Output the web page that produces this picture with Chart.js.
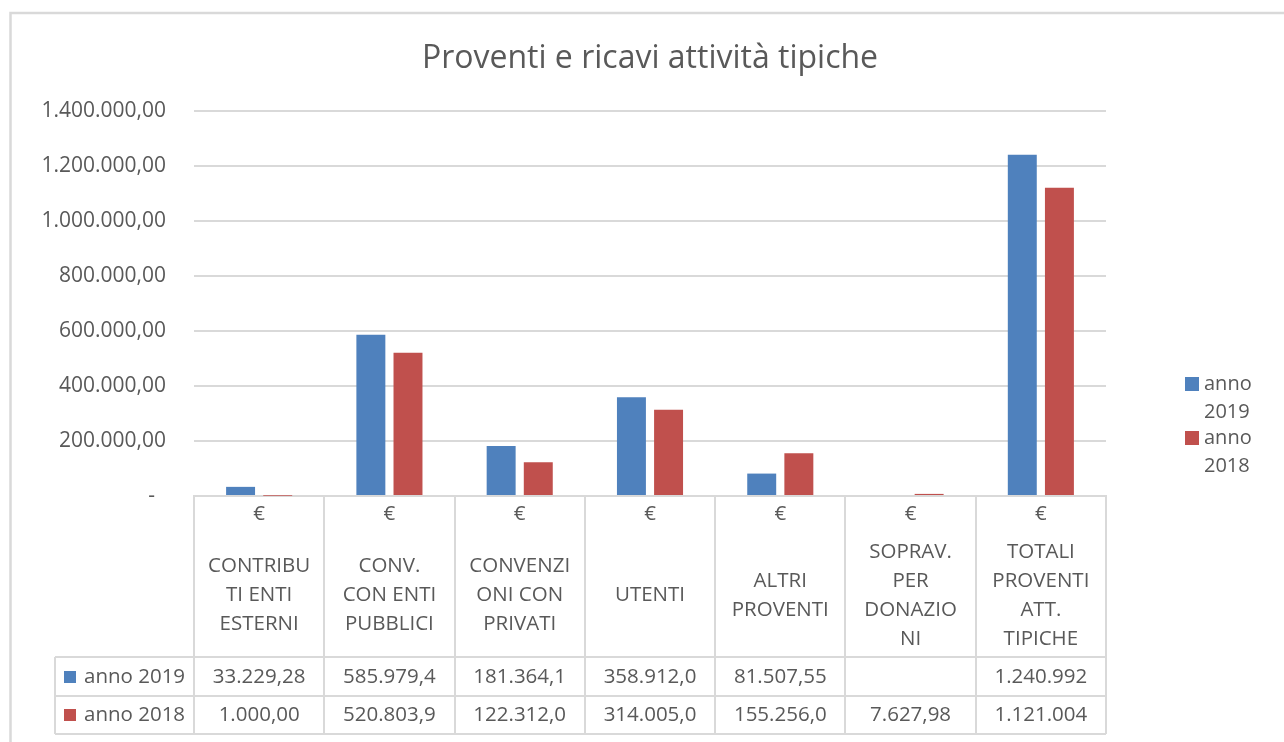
<!DOCTYPE html>
<html>
<head>
<meta charset="utf-8">
<script src="https://cdn.jsdelivr.net/npm/chart.js@4.4.1/dist/chart.umd.min.js"></script>
<style>
	html, body { margin: 0; padding: 0; background: #fff; }
	#wrap { width: 1284px; height: 742px; }
</style>
</head>
<body>
<div id="wrap"><canvas id="chart" width="1284" height="742"></canvas></div>
<script>
// Values
var chartTitle = "Proventi e ricavi attività tipiche";
var categories = [
	["CONTRIBU", "TI ENTI", "ESTERNI"],
	["CONV.", "CON ENTI", "PUBBLICI"],
	["CONVENZI", "ONI CON", "PRIVATI"],
	["UTENTI"],
	["ALTRI", "PROVENTI"],
	["SOPRAV.", "PER", "DONAZIO", "NI"],
	["TOTALI", "PROVENTI", "ATT.", "TIPICHE"]
];
var currencySymbol = "€";
var seriesNames = ["anno 2019", "anno 2018"];
var values2019 = [33229.28, 585979.4, 181364.1, 358912.0, 81507.55, null, 1240992];
var values2018 = [1000.00, 520803.9, 122312.0, 314005.0, 155256.0, 7627.98, 1121004];
// cell texts as they show in the data table (Excel cuts them off)
var cells2019 = ["33.229,28", "585.979,4", "181.364,1", "358.912,0", "81.507,55", "", "1.240.992"];
var cells2018 = ["1.000,00", "520.803,9", "122.312,0", "314.005,0", "155.256,0", "7.627,98", "1.121.004"];
var yMax = 1400000;
var yStep = 200000;

var BLUE = "#4F81BD", RED = "#C0504D", GRID = "#D9D9D9", TEXT = "#595959";
var FONT = "'Open Sans', 'Noto Sans', sans-serif";

// 1400000 -> "1.400.000,00"
function formatIt(v) {
	var parts = v.toFixed(2).split(".");
	var intPart = parts[0].replace(/\B(?=(\d{3})+(?!\d))/g, ".");
	return intPart + "," + parts[1];
}

// Border, data table under the axis and the two-line legend
var tablePlugin = {
	id: "dataTable",
	beforeDraw: function(chart) {
		var ctx = chart.ctx;
		ctx.save();
		ctx.strokeStyle = GRID;
		ctx.lineWidth = 2.5;
		ctx.strokeRect(10.5, 13, 1400, 1000);
		ctx.restore();
	},
	afterDraw: function(chart) {
		var ctx = chart.ctx;
		var area = chart.chartArea;
		var xs = chart.scales.x;
		var n = categories.length;
		var w = (area.right - area.left) / n;
		var top = area.bottom;
		var headBottom = top + 161;
		var rowMid = headBottom + 39;
		var bottom = rowMid + 38;
		var keyLeft = 55;

		ctx.save();
		ctx.strokeStyle = GRID;
		ctx.lineWidth = 2;
		ctx.beginPath();
		for (var k = 0; k <= n; k++) {
			var lx = Math.round(area.left + k * w);
			ctx.moveTo(lx, top);
			ctx.lineTo(lx, bottom);
		}
		ctx.moveTo(keyLeft, headBottom);
		ctx.lineTo(keyLeft, bottom);
		[headBottom, rowMid, bottom].forEach(function(y) {
			ctx.moveTo(keyLeft, y);
			ctx.lineTo(area.right, y);
		});
		ctx.stroke();

		ctx.fillStyle = TEXT;
		ctx.textAlign = "center";
		ctx.textBaseline = "middle";
		ctx.font = "20.5px " + FONT;
		var lineH = 29;
		var nameMid = top + 99.5;
		for (var i = 0; i < n; i++) {
			var cx = xs.getPixelForValue(i);
			ctx.fillText(currencySymbol, cx, top + 18);
			var lines = categories[i];
			var y0 = nameMid - (lines.length - 1) * lineH / 2;
			for (var j = 0; j < lines.length; j++) {
				ctx.fillText(lines[j], cx, y0 + j * lineH);
			}
			ctx.fillText(cells2019[i], cx, headBottom + 20);
			ctx.fillText(cells2018[i], cx, rowMid + 19);
		}

		// row keys
		var rows = [
			{ name: seriesNames[0], color: BLUE, y: headBottom + 20 },
			{ name: seriesNames[1], color: RED, y: rowMid + 19 }
		];
		ctx.textAlign = "left";
		rows.forEach(function(r) {
			ctx.fillStyle = r.color;
			ctx.fillRect(64, r.y - 6, 12, 12);
			ctx.fillStyle = TEXT;
			ctx.fillText(r.name, 84, r.y);
		});

		// legend on the right, label wrapped on two lines
		ctx.font = "20px " + FONT;
		var legend = [
			{ name: seriesNames[0], color: BLUE, y: 384 },
			{ name: seriesNames[1], color: RED, y: 438 }
		];
		legend.forEach(function(l) {
			var words = l.name.split(" ");
			ctx.fillStyle = l.color;
			ctx.fillRect(1185, l.y - 7, 14, 14);
			ctx.fillStyle = TEXT;
			ctx.fillText(words[0], 1204, l.y);
			ctx.fillText(words[1], 1204, l.y + 28);
		});
		ctx.restore();
	}
};

var ctx = document.getElementById("chart");
new Chart(ctx, {
	type: "bar",
	data: {
		labels: categories.map(function(c) { return c.join(" "); }),
		datasets: [
			{ label: seriesNames[0], data: values2019, backgroundColor: BLUE },
			{ label: seriesNames[1], data: values2018, backgroundColor: RED }
		]
	},
	options: {
		responsive: false,
		animation: false,
		layout: { padding: { left: 16, right: 0, top: 0, bottom: 0 } },
		datasets: { bar: { categoryPercentage: 0.57, barPercentage: 0.78 } },
		scales: {
			x: {
				grid: { display: false },
				border: { display: true, color: GRID, width: 2 },
				ticks: { display: false },
				afterFit: function(scale) { scale.height = 246; }
			},
			y: {
				min: 0,
				max: yMax,
				ticks: {
					stepSize: yStep,
					padding: 28,
					color: TEXT,
					font: { family: FONT, size: 21 },
					callback: function(v) { return v === 0 ? "-  " : formatIt(v); }
				},
				grid: { color: GRID, lineWidth: 2, drawTicks: false },
				border: { display: false },
				afterFit: function(scale) { scale.width = 178; }
			},
			// empty right axis keeps room for the legend
			yRight: {
				position: "right",
				min: 0,
				max: yMax,
				ticks: { display: false },
				grid: { display: false },
				border: { display: false },
				afterFit: function(scale) { scale.width = 178; }
			}
		},
		plugins: {
			legend: { display: false },
			tooltip: { enabled: false },
			title: {
				display: true,
				text: chartTitle,
				color: TEXT,
				font: { family: FONT, size: 32, weight: "normal" },
				padding: { top: 39.5, bottom: 33 }
			}
		}
	},
	plugins: [tablePlugin]
});
</script>
</body>
</html>
